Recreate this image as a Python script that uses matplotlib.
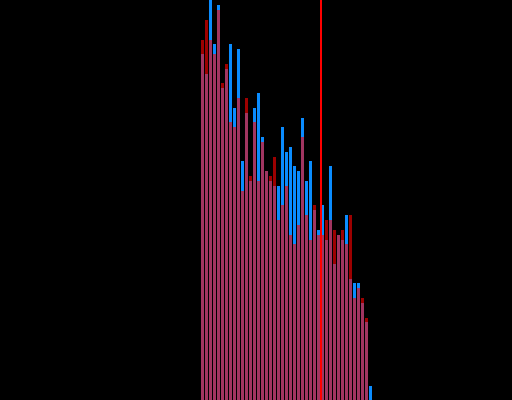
import matplotlib
matplotlib.use("Agg")
import matplotlib.pyplot as plt
import numpy as np

# bar heights (in chart units, 0..400 range)
blue_tops = [54, 74, 0, 44, 5, 88, 69, 44, 108, 49, 161, 113, 181, 108, 93, 137, 171, 181, 186, 186,
             127, 152, 147, 166, 171, 118, 181, 161, 210, 230, 205, 240, 166, 264, 235, 240, 215, 279,
             283, 283, 303, 322, 386]
red_tops = [40, 20, 40, 54, 10, 83, 64, 122, 127, 98, 191, 98, 176, 122, 181, 142, 171, 176, 157, 220,
            205, 186, 235, 244, 225, 137, 215, 240, 205, 235, 235, 220, 220, 230, 235, 230, 244, 215,
            298, 288, 298, 318, 400]
blue_values = [400 - v for v in blue_tops]
red_values = [400 - v for v in red_tops]
marker_value = 29.625

idx = np.arange(len(blue_values))

fig = plt.figure(figsize=(5.12, 4.0), dpi=100, facecolor="black")
ax = fig.add_axes([0, 0, 1, 1])
ax.set_facecolor("black")
ax.bar(idx, blue_values, width=0.75, color="#0a8cff", linewidth=0, antialiased=False)
ax.bar(idx, red_values, width=0.75, color="#ff0000", alpha=0.62, linewidth=0, antialiased=False)
ax.axvline(marker_value, color="#ff0000", linewidth=1.44)
ax.set_xlim(-50.625, 77.375)
ax.set_ylim(0, 400)
ax.axis("off")
fig.savefig("out.png", dpi=100, facecolor="black")
